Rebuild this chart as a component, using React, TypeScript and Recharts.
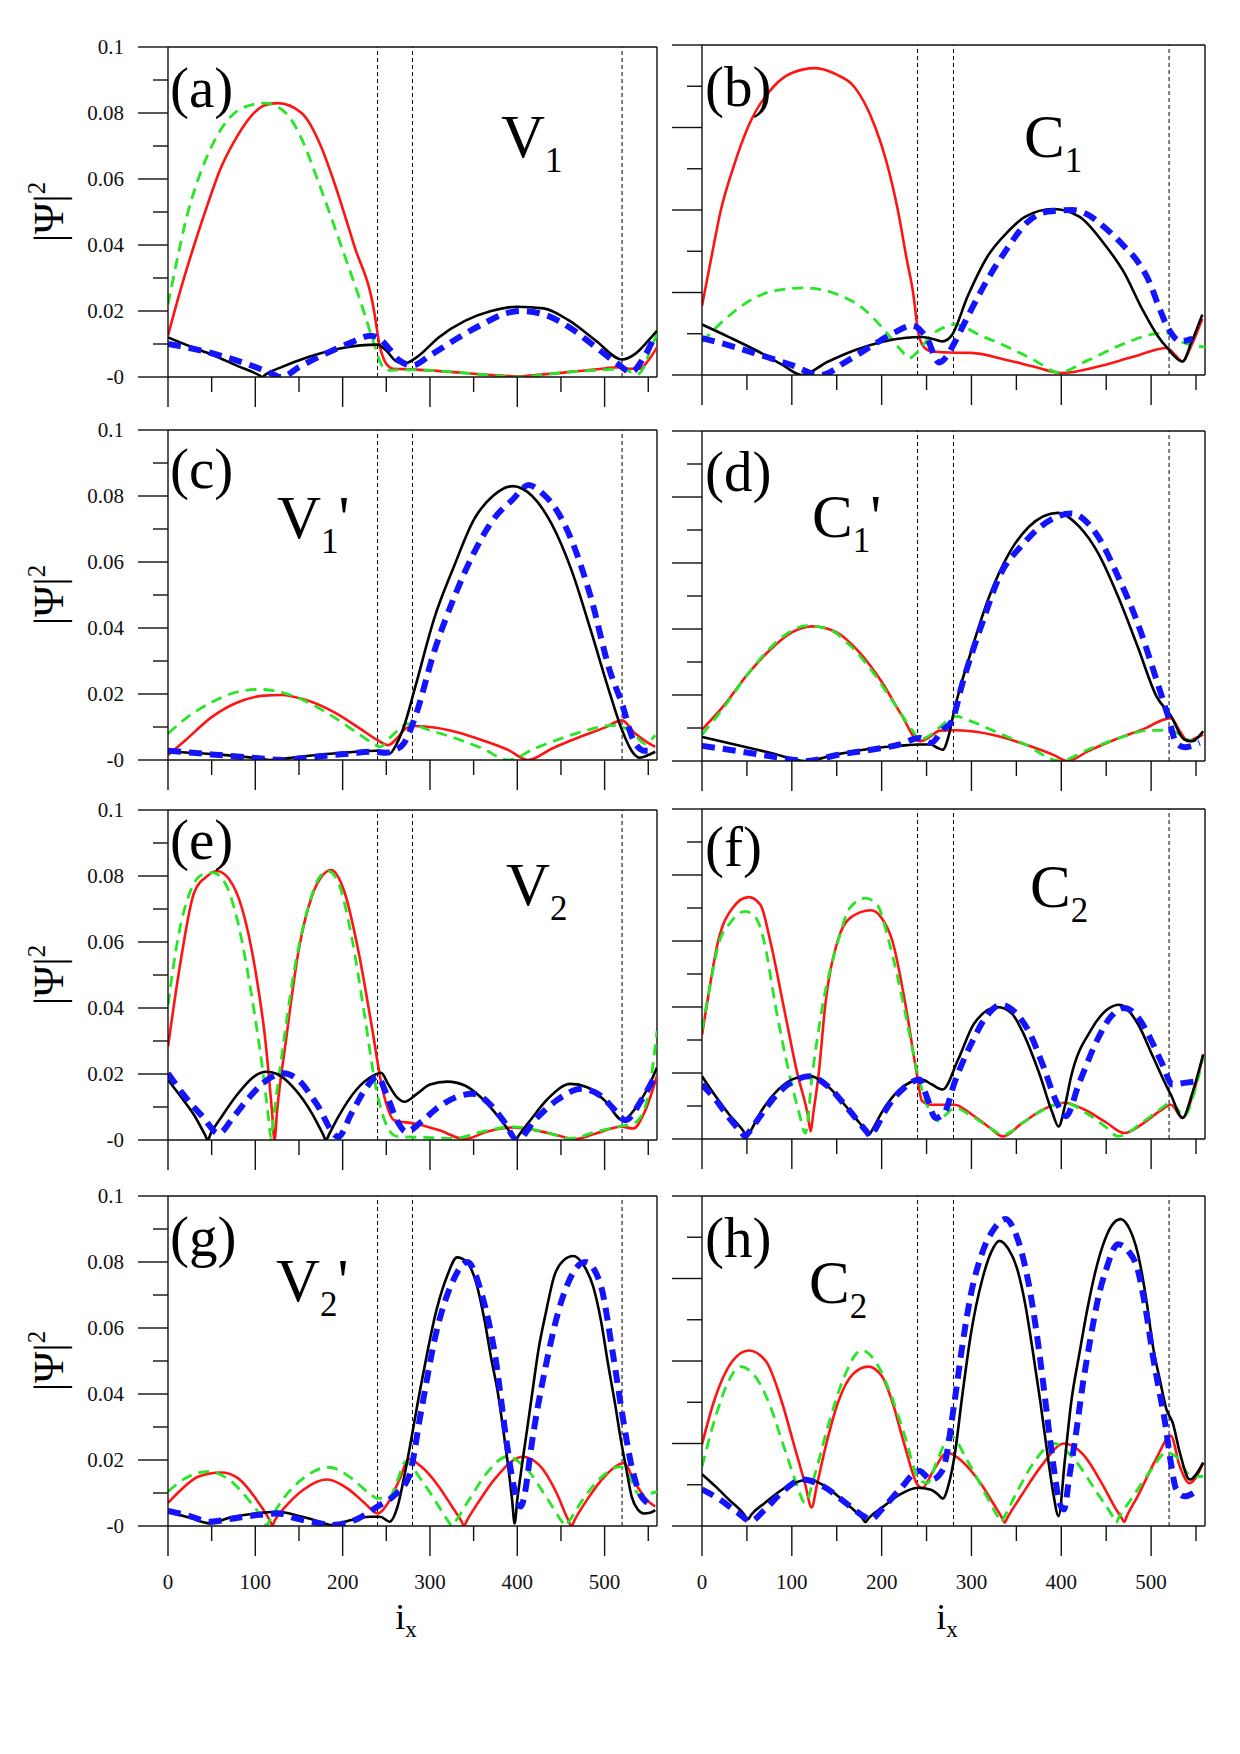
import { Line, LineChart, ReferenceLine, XAxis, YAxis } from "recharts"

type Pt = [number, number]

// x = site index i_x, y = |Psi|^2 in units of 1e-3
// series order in every panel: red (solid), green (dashed), black (solid), blue (thick dashed)

const aRed: Pt[] = [[0,12.6],[15,27],[30,40],[45,52],[60,63],[75,71],[95,79],[110,82.3],[126,83],[153,80],[175,70],[189,60],[213,40],[236,20],[242,10],[250,4],[258,2.5],[280,2.3],[300,2],[340,1.2],[370,0.6],[400,0.2],[430,0.8],[470,1.8],[500,2.6],[518,3],[528,2.5],[540,2.5],[550,5],[560,9]]
const aGreen: Pt[] = [[0,22],[10,35],[20,47],[32,58],[45,67],[63,76],[85,81.5],[110,83],[135,80],[155,71],[171,60],[198,40],[224,20],[236,10],[244,4],[251,2],[270,2.2],[300,2],[350,1],[400,0],[450,1.3],[500,2.2],[518,2.5],[530,1.5],[537,0.8],[545,3],[552,8],[560,13]]
const aBlack: Pt[] = [[0,12],[25,9.3],[50,6.8],[80,3.3],[104,0.6],[108,0],[112,0.8],[130,3],[160,6],[200,8.8],[240,9.8],[250,8],[260,5],[270,4],[285,6],[310,12],[340,17],[370,20],[400,21.3],[430,20.8],[460,17],[490,11],[520,5.3],[535,7],[550,11],[560,14]]
const aBlue: Pt[] = [[0,10],[30,8.5],[60,6.5],[90,4],[115,1.5],[130,0],[150,3],[180,7],[210,10.5],[232,12.5],[245,11],[255,8],[265,5],[280,3.5],[300,6.5],[330,11.5],[360,16],[390,19.5],[405,20],[430,19],[460,15],[490,9],[515,4],[530,1.5],[545,6],[555,11]]

const bRed: Pt[] = [[0,21],[10,35],[21,50],[35,63],[51,75],[80,87.5],[100,91.5],[126,93],[150,91],[169,87.5],[193,75],[205,65],[218,50],[228,35],[235,25],[241,12.5],[247,8.5],[255,7.2],[275,6.8],[300,6.7],[340,4.5],[370,2.5],[400,0.6],[440,2.5],[480,5.5],[518,8.2],[527,6],[535,4.1],[545,9],[557,17]]
const bGreen: Pt[] = [[0,10],[20,15.5],[50,22],[80,25.5],[115,26.4],[150,24.5],[180,20],[205,13],[220,8],[231,5.2],[240,7],[255,12],[270,14.5],[281,15.3],[310,12],[340,8.5],[370,4.5],[397,0.8],[430,4.5],[470,9.5],[505,12.5],[518,12.7],[530,10.5],[545,9],[560,8.5]]
const bBlack: Pt[] = [[0,15.3],[30,11.5],[60,7.5],[90,3],[111,0],[140,4],[170,7.5],[200,10],[225,11.2],[245,11.5],[260,10.7],[268,10.2],[278,12],[296,24],[318,36],[339,43],[360,48],[391,50.3],[420,48],[447,40],[470,31],[490,20],[507,12],[518,8.2],[535,4.1],[545,10],[557,18.3]]
const bBlue: Pt[] = [[0,11.2],[30,9],[60,6.5],[100,3],[132,0],[160,4],[190,9],[215,13],[234,15],[245,13],[253,9.7],[259,5.5],[264,3.8],[272,5.5],[279,8.7],[296,17.8],[318,29],[339,38],[361,46],[385,49.5],[412,50],[430,48.5],[447,45],[470,39],[486,34],[500,27],[507,21.8],[520,13.7],[533,10.2],[546,11]]

const cRed: Pt[] = [[0,1.5],[20,6],[50,13],[80,17.5],[110,19.5],[129,19.7],[160,18],[190,14.5],[220,9.5],[240,6],[252,4.5],[262,6.5],[272,9.5],[281,10.3],[300,10],[330,8.5],[360,6],[390,3],[412,0],[440,3.5],[470,6.8],[500,9.8],[520,12],[535,8],[548,5.5],[558,4]]
const cGreen: Pt[] = [[0,8],[25,13.5],[50,17.5],[75,20.3],[104,21.4],[130,20.5],[160,17.5],[190,13],[215,8.5],[235,5],[243,4],[255,7],[268,10],[274,11],[300,9],[330,6.5],[360,3.5],[390,0],[420,3.5],[450,6.5],[480,9],[506,10.5],[520,10],[535,7.5],[546,5],[558,7.5]]
const cBlack: Pt[] = [[0,2.5],[50,1.8],[100,0.6],[116,0],[150,1],[200,2.2],[240,2.8],[254,2],[262,5],[270,10],[283,22],[305,43],[328,59],[350,72.7],[372,80],[395,83],[417,80],[439,71.7],[462,57.6],[484,39.4],[506,20.2],[520,9],[533,2],[540,0.7],[550,1.5],[558,2.5]]
const cBlue: Pt[] = [[0,2.8],[50,1.7],[100,0.6],[131,0],[170,1],[210,2],[234,2.5],[250,2.2],[260,3],[270,5],[283,13],[305,33],[328,49.5],[350,62.6],[372,72.7],[395,79],[413,83.3],[430,80.5],[439,78],[462,66.7],[484,49.5],[506,27],[520,17],[533,6],[546,2.8],[558,2.8]]

const dRed: Pt[] = [[0,9.5],[25,17],[50,26],[75,33.5],[100,39],[123,40.8],[150,39],[175,33],[200,24],[222,14],[242,6],[252,7],[265,9.2],[281,9.3],[300,9],[330,7.5],[360,5],[390,2],[407,0],[430,3],[460,6.5],[490,9.5],[522,13],[532,9],[541,6],[550,7],[558,8]]
const dGreen: Pt[] = [[0,8],[25,16.5],[50,26],[75,34],[100,39.5],[117,41],[140,40],[165,35],[190,27],[215,17],[235,9],[242,6.5],[255,8],[270,11.5],[283,13.5],[300,12],[330,8.5],[360,5],[398,0],[430,3.5],[465,7],[498,9.3],[522,9.2],[535,7.5],[545,6],[558,7]]
const dBlack: Pt[] = [[0,7.3],[40,4.8],[80,2.2],[115,0],[150,2],[190,3.8],[220,4.6],[242,5],[255,5],[262,4],[268,3.4],[274,7],[281,15.6],[299,32.7],[320,50],[342,63],[364,71],[396,75.2],[420,71],[441,63],[463,50],[485,34.7],[506,19.6],[522,13.7],[537,6.5],[545,6],[558,9]]
const dBlue: Pt[] = [[0,4.6],[40,3],[80,1.3],[117,0],[150,1.8],[190,3.5],[220,5],[242,7],[255,5.5],[268,9.5],[278,12],[290,23.6],[312,41.8],[333,57],[355,65],[377,71],[411,75],[441,68],[463,56],[485,41.8],[506,24.6],[519,13.5],[528,5.5],[537,4.2],[554,5.5]]

const eRed: Pt[] = [[0,28.3],[15,55],[30,75],[45,80],[56,81.5],[70,79],[85,70],[100,51.5],[112,29],[119,9],[122,0],[125,9],[135,30],[150,58],[165,74],[178,80.5],[187,81.8],[201,76],[219,56],[233,35],[246,15],[259,6],[282,5],[310,3],[340,0.3],[365,2.5],[394,3.8],[420,3],[445,1.5],[466,0.3],[490,2],[519,4],[533,3.5],[545,8],[560,19.4]]
const eGreen: Pt[] = [[0,41],[12,62],[25,75],[40,80.5],[51.5,81],[65,78],[80,66],[95,45],[108,22],[115,7],[118,0.5],[121,7],[130,25],[145,52],[160,70],[172,79],[183.5,81.5],[195,78],[210,62],[225,38],[238,16],[248,6],[256,2],[264,1],[290,0.8],[327,0.5],[360,2.5],[394,4],[430,2.5],[461,0.5],[490,2.5],[519,4.2],[533,5],[545,9],[551,15],[560,33]]
const eBlack: Pt[] = [[0,18.2],[15,13],[30,7.5],[42,1.8],[45.7,0],[49,2],[60,6.5],[80,14],[100,19.5],[112,20.7],[125,20],[145,15.5],[165,8],[177,2],[181,0],[185,2],[195,7],[215,15],[235,19.5],[244,20.4],[252,17],[262,13],[271,11.6],[285,14],[300,16.8],[320,17.7],[340,16.5],[360,12.5],[380,6.5],[394,1.5],[398,0],[402,1.5],[415,6],[435,12.5],[461,17],[480,16],[500,12],[521,6],[535,9.5],[548,15],[560,22]]
const eBlue: Pt[] = [[0,20.2],[20,13],[40,7],[58,2],[75,7],[95,13.5],[115,18.5],[132,20.2],[150,18],[170,11],[195,1],[210,8],[225,15],[240,19.2],[250,14],[262,6],[273,2.5],[290,5.5],[310,10],[330,13],[349,14],[370,10.5],[385,5.5],[400,0],[420,6],[445,12],[474,15.5],[495,13.5],[512,9],[524,6],[542,12],[557,19]]

const fRed: Pt[] = [[0,31.6],[5,40],[18,60],[34,70],[52,73.3],[65,71],[76,60],[91,40],[106,20],[118,7],[121,2.3],[124,8],[130,20],[137,40],[151,60],[165,67],[188,69.3],[200,67],[212,60],[227,40],[239,20],[245,11.5],[255,10.4],[281,10.4],[300,7.5],[320,3.5],[335,0.8],[355,4.5],[380,9],[403,11],[425,9],[450,5],[470,1.8],[490,4.5],[510,8.5],[522,10.4],[535,6.4],[546,13],[558,25.6]]
const fGreen: Pt[] = [[0,33],[8,45],[19.5,60],[30,65],[48,69],[60,67],[69,60],[82,40],[97,20],[108,8],[115,1.8],[123,20],[134,40],[151.5,60],[164.5,70],[182,73],[195,71],[208,60],[225,40],[240,20],[251,10],[258,6.5],[264,5.4],[272,7.5],[281,9.4],[300,7],[320,3.5],[335,1.3],[360,5.5],[385,9.5],[403,11],[430,7.5],[450,3.5],[463,0.8],[490,5],[510,9],[522,11],[537,7],[548,14],[558,25]]
const fBlack: Pt[] = [[0,19],[15,13],[30,7.5],[46,2.4],[50,0.8],[54,2.4],[65,8],[85,15],[105,18.5],[121,19],[140,16],[160,10],[175,5],[182,2.8],[186,1.3],[190,3],[200,8],[220,15],[244.6,18],[256,16.5],[268,15],[285,24],[303,35],[329,40],[345,38],[356,33],[376.6,19],[390,8],[397,3.8],[404,10],[411,19],[433,33],[450,39],[465,40.7],[485,35],[502,25],[519,15],[522,13.4],[535,6.4],[546,14],[558,25.6]]
const fBlue: Pt[] = [[0,16.5],[15,12],[30,6.5],[44,2],[48,0.8],[52,2],[65,7],[85,14],[105,18],[119,19],[140,16],[160,10],[175,5],[184,2],[188,0.8],[192,2.5],[205,9],[225,15.5],[242,18],[250,13],[260,6.4],[270,8],[281,17],[300,29],[315,36.5],[333,40.7],[350,38],[365,32],[380,22],[395,11],[405,6.9],[420,17],[440,30],[455,37],[470,39.7],[485,37],[500,30],[512,23],[524,16.5],[537,17],[552,17.5]]

const gRed: Pt[] = [[0,7],[15,11],[35,15],[61,16.2],[80,14.5],[100,8.5],[116,2],[119.5,0.3],[123,2],[135,6],[155,11],[182,14.1],[205,11.5],[225,7],[240,3.8],[252,7],[265,14],[276,20.3],[290,18],[310,12],[325,6],[336,1.5],[339,0],[342,1.5],[355,7],[375,14.5],[406,21],[425,18.5],[445,10],[458,2],[462,0],[466,2],[480,8],[500,15],[522,19],[535,13],[548,8],[558,5.9]]
const gGreen: Pt[] = [[0,10.4],[20,14.5],[45.7,16.5],[70,14],[95,7],[110,1.5],[113,0],[116,1.5],[130,7.5],[155,14.5],[184,17.8],[210,14.5],[230,10],[240,8.4],[254,8.9],[263,14],[272,19.5],[290,14],[310,6],[322,1],[325,0],[328,1],[345,8],[365,16],[388,21],[410,17.5],[435,8],[452,1],[455,0],[458,1],[475,8],[495,14.5],[518,18],[530,14],[540,9.4],[560,10.4]]
const gBlack: Pt[] = [[0,4.3],[25,2.5],[48,0.8],[70,2.5],[100,3.8],[126,4.3],[150,3],[170,1.6],[187,0.3],[210,1.8],[231,2.8],[243,2.8],[254,1.3],[263,6],[272,17],[290,43],[307.5,65.5],[320,76],[331,81.4],[342,80],[352,74.5],[362,63],[370,51],[378,40],[384,29],[391,15],[394,8],[397,0.8],[400,8],[403,14],[410,27],[417,40],[424,53],[433,65],[442,75.5],[453,80.5],[464,81.8],[476,79],[487,72.5],[496,62],[504,49],[512,37],[518,27],[525,17],[531,8.9],[538,5],[545,3.8],[552,4],[558,4.8]]
const gBlue: Pt[] = [[0,4.6],[25,3],[48,1.3],[75,2.3],[101.6,3.3],[126,3.8],[146,2.3],[170,1],[187,0.3],[218,2.3],[240,5.9],[258,9],[276,15],[290,35],[307.5,59],[325,73.5],[343,80],[359,70.5],[375,51],[388,25],[396,12],[404,5.9],[410,12],[415,22],[433,49],[451,68.5],[478,80],[495,73.5],[509,53],[522,31],[531,18],[540,10],[549,7]]

const hRed: Pt[] = [[0,24.7],[13,37.5],[34,50],[52,53.2],[71,50],[89,37.5],[102,25],[115,12.5],[122,5.6],[128,12.5],[138.5,25],[151.5,37.5],[168,46],[185,48.3],[200,45.5],[212,37.5],[225,25],[240,12.5],[245,11.5],[258,17],[273,22.2],[290,19.5],[310,13],[325,6.5],[334,2.5],[337,1],[340,2.5],[355,9],[380,19],[403,25],[425,21.5],[445,13],[460,5.5],[467,2.5],[470,1.2],[473,3],[485,9],[505,20],[522,27.3],[532,18],[543,13],[558,19.2]]
const hGreen: Pt[] = [[0,18],[15,33],[28,43],[43,48.3],[60,45],[75,37],[90,25],[105,13],[114.7,7],[125,15],[140,30],[158,45],[177.5,53.2],[195,49],[210,40],[225,28],[242,14],[251,13],[262,20],[277,27.3],[295,20],[315,10],[330,2.5],[333,1.2],[336,2.5],[350,10],[370,19.5],[392,25],[415,20],[440,10],[458,2.5],[461,1],[464,2.5],[480,9],[500,17],[517,22.2],[528,21],[545,15],[558,15]]
const hBlack: Pt[] = [[0,15.7],[15,12],[30,8],[47,3.5],[51,2],[55,3.5],[70,7],[95,12],[119,14.1],[140,11.5],[160,7],[178,2.5],[182,1.2],[186,2.5],[200,5.5],[220,9.5],[240,11.6],[255,11],[263,9.5],[268,8.3],[275,13],[281,21],[290,40],[299,57.6],[312,74.7],[322,83],[331,86.4],[341,84],[351,77.8],[360,67],[368,53.5],[377,37],[385,21],[391,10],[397,3],[404,20],[411,37.4],[420,52],[429,65.7],[437,76],[446,84.8],[456,91],[466,93],[476,90],[485,82.8],[495,68],[502,54.5],[510,44],[517,35.4],[524,31.3],[532,22.2],[543,14.1],[558,19.2]]
const hBlue: Pt[] = [[0,11.1],[20,8],[40,4],[54,1.5],[70,5],[90,10.5],[112.5,14.1],[135,12],[160,7],[180,3],[188,2],[200,5],[220,11],[242,16.7],[255,14],[268,17],[281,37.4],[290,55],[299,69.7],[312,82.8],[325,90],[338,93],[347,90],[355,83.8],[364,73],[372,59.6],[380,43],[387,27.3],[393,15],[398,7],[403,5],[409,15],[416,27.3],[424,43],[433,57.6],[441,69],[450,77.8],[463,85.4],[474,83.5],[485,77.8],[495,64],[502,51.5],[509,41],[515,32.3],[522,19.2],[528,11.1],[537,9],[554,11.3]]

const xTicks = [0, 50, 100, 150, 200, 250, 300, 350, 400, 450, 500, 550]
const yTicksTenth = [0, 10, 20, 30, 40, 50, 60, 70, 80, 90, 100]
const yTicksEighth = [0, 12.5, 25, 37.5, 50, 62.5, 75, 87.5, 100]
const boundaries = [240, 280, 520]

const FONT = '"Liberation Serif", "Times New Roman", serif'
const AXIS = "#111"
const seriesStyles = [
  { color: "#ff1414", width: 2.6, dash: undefined },
  { color: "#26e626", width: 2.8, dash: "11 7" },
  { color: "#000000", width: 2.6, dash: undefined },
  { color: "#1414ff", width: 6, dash: "13 8" },
]

const panels = [
  { id: "a", col: 0, top: 47, data: [aRed, aGreen, aBlack, aBlue], yTicks: yTicksTenth, major: 20, bottom: false },
  { id: "b", col: 1, top: 45, data: [bRed, bGreen, bBlack, bBlue], yTicks: yTicksEighth, major: 25, bottom: false },
  { id: "c", col: 0, top: 430, data: [cRed, cGreen, cBlack, cBlue], yTicks: yTicksTenth, major: 20, bottom: false },
  { id: "d", col: 1, top: 431, data: [dRed, dGreen, dBlack, dBlue], yTicks: yTicksTenth, major: 20, bottom: false },
  { id: "e", col: 0, top: 810, data: [eRed, eGreen, eBlack, eBlue], yTicks: yTicksTenth, major: 20, bottom: false },
  { id: "f", col: 1, top: 809, data: [fRed, fGreen, fBlack, fBlue], yTicks: yTicksTenth, major: 20, bottom: false },
  { id: "g", col: 0, top: 1196, data: [gRed, gGreen, gBlack, gBlue], yTicks: yTicksTenth, major: 20, bottom: true },
  { id: "h", col: 1, top: 1196, data: [hRed, hGreen, hBlack, hBlue], yTicks: yTicksEighth, major: 25, bottom: true },
]

// plot area: left column x 168..657, right column x 702..1205
const Y_AXIS_W = 40
const X_AXIS_H = 70
const TOP_PAD = 24
const columns = [
  { left: 0, width: 660, marginLeft: 168 - Y_AXIS_W, marginRight: 3 },
  { left: 660, width: 580, marginLeft: 42 - Y_AXIS_W, marginRight: 35 },
]
const PLOT_H = 330

const panelTags = [
  { text: "(a)", x: 170, y: 107 },
  { text: "(b)", x: 705, y: 106 },
  { text: "(c)", x: 170, y: 488 },
  { text: "(d)", x: 705, y: 491 },
  { text: "(e)", x: 170, y: 859 },
  { text: "(f)", x: 705, y: 866 },
  { text: "(g)", x: 170, y: 1256 },
  { text: "(h)", x: 705, y: 1257 },
]
const stateTags = [
  { main: "V", sub: "1", prime: false, x: 501, y: 157 },
  { main: "C", sub: "1", prime: false, x: 1024, y: 157 },
  { main: "V", sub: "1", prime: true, x: 277, y: 538 },
  { main: "C", sub: "1", prime: true, x: 812, y: 537 },
  { main: "V", sub: "2", prime: false, x: 506, y: 905 },
  { main: "C", sub: "2", prime: false, x: 1030, y: 907 },
  { main: "V", sub: "2", prime: true, x: 276, y: 1301 },
  { main: "C", sub: "2", prime: false, x: 809, y: 1303 },
]

const fmtY = (v: number) => (v === 0 ? "-0" : v === 100 ? "0.1" : String(v / 1000))

function XTick(props: any) {
  const { x, y, payload, showLabel } = props
  const v = payload.value as number
  const major = v % 100 === 0
  return (
    <g>
      <line x1={x} x2={x} y1={y} y2={y + (major ? 30 : 15)} stroke={AXIS} strokeWidth={1.4} />
      {showLabel && major ? (
        <text x={x} y={y + 63} textAnchor="middle" fontFamily={FONT} fontSize={21} fill="#111">
          {v}
        </text>
      ) : null}
    </g>
  )
}

function YTick(props: any) {
  const { x, y, payload, showLabel, majorStep } = props
  const v = payload.value as number
  const major = Math.abs(v / majorStep - Math.round(v / majorStep)) < 1e-6
  const len = major ? 30 : 15
  return (
    <g>
      <line x1={x - len} x2={x} y1={y} y2={y} stroke={AXIS} strokeWidth={1.4} />
      {showLabel && major ? (
        <text x={x - 44} y={y + 7} textAnchor="end" fontFamily={FONT} fontSize={21} fill="#111">
          {fmtY(v)}
        </text>
      ) : null}
    </g>
  )
}

function Panel({ panel }: { panel: (typeof panels)[number] }) {
  const col = columns[panel.col]
  const showY = panel.col === 0
  return (
    <div style={{ position: "absolute", left: col.left, top: panel.top - TOP_PAD }}>
      <LineChart
        width={col.width}
        height={PLOT_H + TOP_PAD + X_AXIS_H + 10}
        margin={{ top: TOP_PAD, right: col.marginRight, bottom: 10, left: col.marginLeft }}
      >
        <XAxis
          type="number"
          dataKey="x"
          domain={[0, 560]}
          allowDataOverflow
          ticks={xTicks}
          interval={0}
          height={X_AXIS_H}
          tickSize={0}
          tickMargin={0}
          tickLine={false}
          axisLine={{ stroke: AXIS, strokeWidth: 1.4 }}
          tick={(p: any) => <XTick {...p} showLabel={panel.bottom} />}
        />
        <YAxis
          type="number"
          domain={[0, 100]}
          allowDataOverflow
          ticks={panel.yTicks}
          interval={0}
          width={Y_AXIS_W}
          tickSize={0}
          tickMargin={0}
          tickLine={false}
          axisLine={{ stroke: AXIS, strokeWidth: 1.4 }}
          tick={(p: any) => <YTick {...p} showLabel={showY} majorStep={panel.major} />}
        />
        <ReferenceLine y={100} stroke={AXIS} strokeWidth={1.4} />
        <ReferenceLine x={560} stroke={AXIS} strokeWidth={1.4} />
        {boundaries.map((b) => (
          <ReferenceLine key={b} x={b} stroke="#000" strokeWidth={1} strokeDasharray="4 3" />
        ))}
        {panel.data.map((pts, i) => (
          <Line
            key={i}
            data={pts.map(([x, y]) => ({ x, y }))}
            dataKey="y"
            type="monotone"
            stroke={seriesStyles[i].color}
            strokeWidth={seriesStyles[i].width}
            strokeDasharray={seriesStyles[i].dash}
            dot={false}
            activeDot={false}
            isAnimationActive={false}
          />
        ))}
      </LineChart>
    </div>
  )
}

export default function App() {
  const leftPanels = panels.filter((p) => p.col === 0)
  return (
    <div style={{ position: "absolute", left: 0, top: 0, width: 1240, height: 1754, background: "#fff" }}>
      {panels.map((p) => (
        <Panel key={p.id} panel={p} />
      ))}
      <svg
        width={1240}
        height={1754}
        style={{ position: "absolute", left: 0, top: 0, pointerEvents: "none" }}
        fontFamily={FONT}
      >
        {panelTags.map((t) => (
          <text key={t.text} x={t.x} y={t.y} fontSize={57} fill="#000">
            {t.text}
          </text>
        ))}
        {stateTags.map((t, i) => (
          <text key={i} x={t.x} y={t.y} fontSize={61} fill="#000">
            {t.main}
            <tspan fontSize={35} dy={15}>
              {t.sub}
            </tspan>
            {t.prime ? <tspan dy={-15}>'</tspan> : null}
          </text>
        ))}
        {leftPanels.map((p) => {
          const cy = p.top + PLOT_H / 2
          return (
            <text
              key={p.id}
              x={63}
              y={cy}
              fontSize={42}
              textAnchor="middle"
              transform={`rotate(-90 63 ${cy})`}
              fill="#000"
            >
              |Ψ|
              <tspan fontSize={25} dy={-18}>
                2
              </tspan>
            </text>
          )
        })}
        {[406, 947].map((cx) => (
          <text key={cx} x={cx} y={1629} fontSize={36} textAnchor="middle" fill="#000">
            i
            <tspan fontSize={23} dy={8}>
              x
            </tspan>
          </text>
        ))}
      </svg>
    </div>
  )
}
